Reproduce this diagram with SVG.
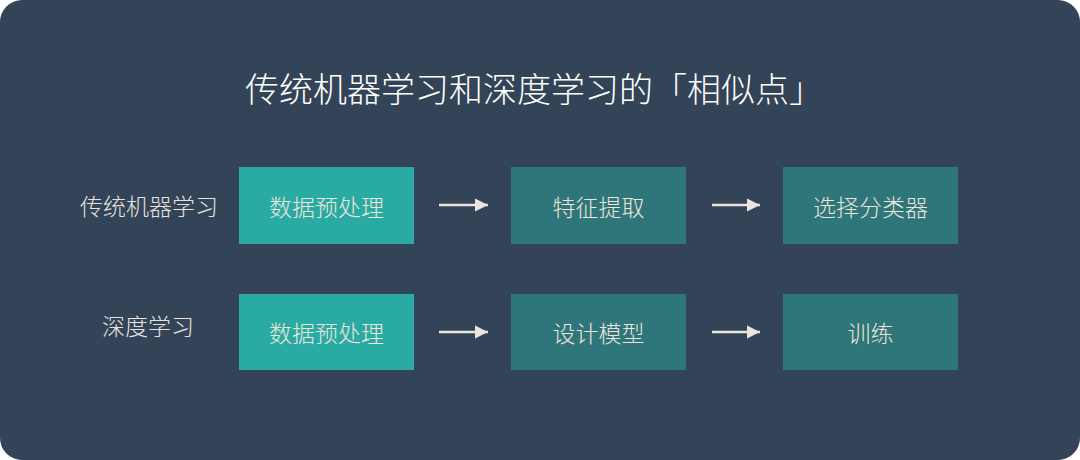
<svg xmlns="http://www.w3.org/2000/svg" width="1080" height="460" viewBox="0 0 1080 460">
<defs>
<marker id="ah" markerWidth="14" markerHeight="14" refX="13" refY="7" orient="auto" markerUnits="userSpaceOnUse">
<path d="M0,0.5 L13,7 L0,13.5 Z" fill="#ece5db"/>
</marker>
<style>
.t{font-family:"Noto Sans CJK SC","Noto Sans",sans-serif;text-anchor:middle;dominant-baseline:central;font-weight:300}
.title{font-size:34px;fill:#ffffff}
.lbl{font-size:23px;fill:#e6e3df}
.nt{font-size:23px;fill:#ece5db}
.b1{fill:#29aba3}
.b2{fill:#2e767a}
.c{stroke:#ece5db;stroke-width:2.5;fill:none;marker-end:url(#ah)}
</style>
</defs>
<rect x="0" y="0" width="1080" height="460" fill="#ffffff"/>
<rect x="0" y="0" width="1080" height="460" rx="22" fill="#344458"/>
<text class="t title" x="534" y="87">传统机器学习和深度学习的「相似点」</text>
<text class="t lbl" x="149" y="205">传统机器学习</text>
<text class="t lbl" x="148" y="325">深度学习</text>
<g id="n1"><rect class="b1" x="239" y="167" width="175" height="77"/><text class="t nt" x="326.5" y="205.5">数据预处理</text></g>
<g id="n2"><rect class="b2" x="511" y="167" width="175" height="77"/><text class="t nt" x="598.5" y="205.5">特征提取</text></g>
<g id="n3"><rect class="b2" x="783" y="167" width="175" height="77"/><text class="t nt" x="870.5" y="205.5">选择分类器</text></g>
<g id="n4"><rect class="b1" x="239" y="294" width="175" height="76"/><text class="t nt" x="326.5" y="332">数据预处理</text></g>
<g id="n5"><rect class="b2" x="511" y="294" width="175" height="76"/><text class="t nt" x="598.5" y="332">设计模型</text></g>
<g id="n6"><rect class="b2" x="783" y="294" width="175" height="76"/><text class="t nt" x="870.5" y="332">训练</text></g>
<g id="connectors">
<line class="c" x1="439" y1="205" x2="488" y2="205"/>
<line class="c" x1="712" y1="205" x2="760" y2="205"/>
<line class="c" x1="439" y1="332" x2="488" y2="332"/>
<line class="c" x1="712" y1="332" x2="760" y2="332"/>
</g>
</svg>
